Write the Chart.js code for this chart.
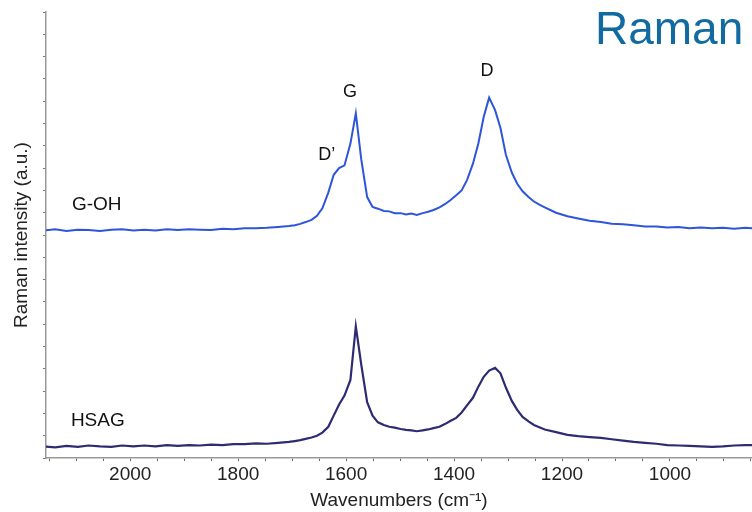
<!DOCTYPE html>
<html>
<head>
<meta charset="utf-8">
<script src="https://cdn.jsdelivr.net/npm/chart.js@4"></script>
<style>
  body { margin: 0; background: #fff; }
  #wrap { position: relative; width: 752px; height: 512px; overflow: hidden; }
  #title {
    position: absolute; left: 595px; top: 1px;
    font: 46px "Liberation Sans", Arial, sans-serif;
    color: #116aa0;
  }
</style>
</head>
<body>
<div id="wrap">
  <canvas id="chart" width="752" height="512"></canvas>
  <div id="title">Raman</div>
</div>
<script>
// wavenumbers (cm-1)
const wavenumbers = [
  2159, 2139, 2118, 2097, 2077, 2056, 2035, 2015, 1994, 1974, 1953, 1932, 1912, 1891, 1871, 1850, 1829, 1809, 1788, 1767, 1747, 1726, 1706,
  1695, 1685, 1675, 1664, 1654, 1644, 1633, 1623, 1613, 1603, 1592, 1582, 1572, 1561, 1551, 1541, 1530, 1520, 1510, 1499, 1489,
  1479, 1469, 1458, 1448, 1438, 1427, 1417, 1407, 1396, 1386, 1376, 1365, 1355, 1345, 1335, 1324, 1314, 1304, 1293, 1283,
  1273, 1262, 1252, 1242,
  1232, 1211, 1190, 1170, 1149, 1128, 1108, 1087, 1067, 1046, 1025, 1005, 984, 964, 943, 922, 902, 881, 860, 845
];

// G-OH spectrum (offset upwards)
const gohValues = [
  51.0, 51.3, 50.9, 51.2, 51.1, 50.9, 51.2, 51.3, 51.0, 51.2, 51.0, 51.3, 51.1, 51.3, 51.2, 51.1, 51.4, 51.3, 51.5, 51.5, 51.6, 51.8, 52.0,
  52.2, 52.5, 52.9, 53.4, 54.3, 56.0, 59.5, 63.5, 65.0, 65.6, 70.5, 77.3, 67.0, 58.5, 56.3, 55.9, 55.4, 55.3, 54.9, 54.9, 54.6,
  54.8, 54.5, 54.9, 55.2, 55.6, 56.2, 56.9, 57.8, 58.9, 60.0, 62.3, 66.0, 70.5, 76.5, 80.8, 78.0, 74.0, 68.0, 64.0, 61.5,
  59.8, 58.5, 57.5, 56.8,
  56.2, 55.0, 54.2, 53.7, 53.2, 52.9, 52.5, 52.4, 52.2, 51.9, 51.9, 51.7, 51.8, 51.5, 51.7, 51.5, 51.6, 51.4, 51.6, 51.5
];

// HSAG spectrum
const hsagValues = [
  2.6, 2.4, 2.7, 2.5, 2.8, 2.6, 2.5, 2.8, 2.6, 2.8, 2.6, 2.9, 2.7, 2.9, 2.8, 3.0, 2.9, 3.1, 3.1, 3.3, 3.2, 3.4, 3.6,
  3.8, 4.0, 4.3, 4.6, 5.0, 5.7, 7.0, 9.5, 12.0, 14.0, 17.5, 29.5, 21.0, 12.5, 9.5, 8.0, 7.4, 7.0, 6.8, 6.5, 6.3,
  6.2, 6.0, 6.2, 6.4, 6.7, 7.0, 7.6, 8.3, 9.0, 10.2, 11.8, 13.5, 16.0, 18.2, 19.6, 20.2, 19.0, 15.8, 12.8, 10.8,
  9.2, 8.2, 7.4, 6.9,
  6.4, 5.8, 5.2, 4.9, 4.7, 4.5, 4.2, 3.9, 3.6, 3.4, 3.2, 2.9, 2.8, 2.7, 2.6, 2.5, 2.6, 2.8, 2.9, 2.9
];

// x ticks every 50, labelled every 200
const xTicks = [850, 900, 950, 1000, 1050, 1100, 1150, 1200, 1250, 1300, 1350, 1400, 1450, 1500, 1550, 1600, 1650, 1700, 1750, 1800, 1850, 1900, 1950, 2000, 2050, 2100, 2150];

// text annotations placed in data coordinates
const peakLabels = [
  { text: "D\u2019", wn: 1636, y: 67.9, size: 18 },
  { text: "G", wn: 1593, y: 82.1, size: 18 },
  { text: "D", wn: 1339, y: 86.8, size: 18 },
  { text: "G-OH", wn: 2062, y: 56.7, size: 19 },
  { text: "HSAG", wn: 2060, y: 8.3, size: 19 }
];

const FONT = '"Liberation Sans", Arial, sans-serif';

const labelPlugin = {
  id: "peakLabels",
  afterDatasetsDraw(chart) {
    const { ctx, scales } = chart;
    ctx.save();
    ctx.fillStyle = "#111";
    ctx.textAlign = "center";
    ctx.textBaseline = "middle";
    peakLabels.forEach(l => {
      ctx.font = l.size + "px " + FONT;
      ctx.fillText(l.text, scales.x.getPixelForValue(l.wn), scales.y.getPixelForValue(l.y));
    });
    ctx.restore();
  }
};

const toPoints = vals => wavenumbers.map((w, i) => ({ x: w, y: vals[i] }));

new Chart(document.getElementById("chart"), {
  type: "line",
  data: {
    datasets: [
      { label: "G-OH", data: toPoints(gohValues), borderColor: "#2d55dc", borderWidth: 2, pointRadius: 0, tension: 0 },
      { label: "HSAG", data: toPoints(hsagValues), borderColor: "#2c2c72", borderWidth: 2.2, pointRadius: 0, tension: 0 }
    ]
  },
  options: {
    responsive: false,
    animation: false,
    layout: { padding: { top: 12, left: 0, right: 0, bottom: 0 } },
    plugins: { legend: { display: false }, tooltip: { enabled: false } },
    scales: {
      x: {
        type: "linear",
        reverse: true,
        min: 848,
        max: 2156,
        afterBuildTicks: scale => { scale.ticks = xTicks.map(v => ({ value: v })); },
        afterFit: scale => { scale.height = 54; },
        ticks: {
          color: "#222",
          font: { family: FONT, size: 19 },
          padding: 2,
          maxRotation: 0,
          autoSkip: false,
          callback: v => (v % 200 === 0 ? v : "")
        },
        grid: { drawOnChartArea: false, tickLength: 3, tickColor: "#666" },
        border: { color: "#999", width: 1.5 },
        title: {
          display: true,
          text: "Wavenumbers (cm\u207B\u00B9)",
          color: "#222",
          font: { family: FONT, size: 19 },
          padding: { top: 0, bottom: 0 }
        }
      },
      y: {
        min: 0,
        max: 100,
        afterFit: scale => { scale.width = 46; },
        ticks: { display: false, stepSize: 5 },
        grid: { drawOnChartArea: false, tickLength: 3, tickColor: "#777" },
        border: { color: "#999", width: 1.5 },
        title: {
          display: true,
          text: "Raman intensity (a.u.)",
          color: "#222",
          font: { family: FONT, size: 19 },
          padding: { top: 10, bottom: 0 }
        }
      }
    }
  },
  plugins: [labelPlugin]
});
</script>
</body>
</html>
